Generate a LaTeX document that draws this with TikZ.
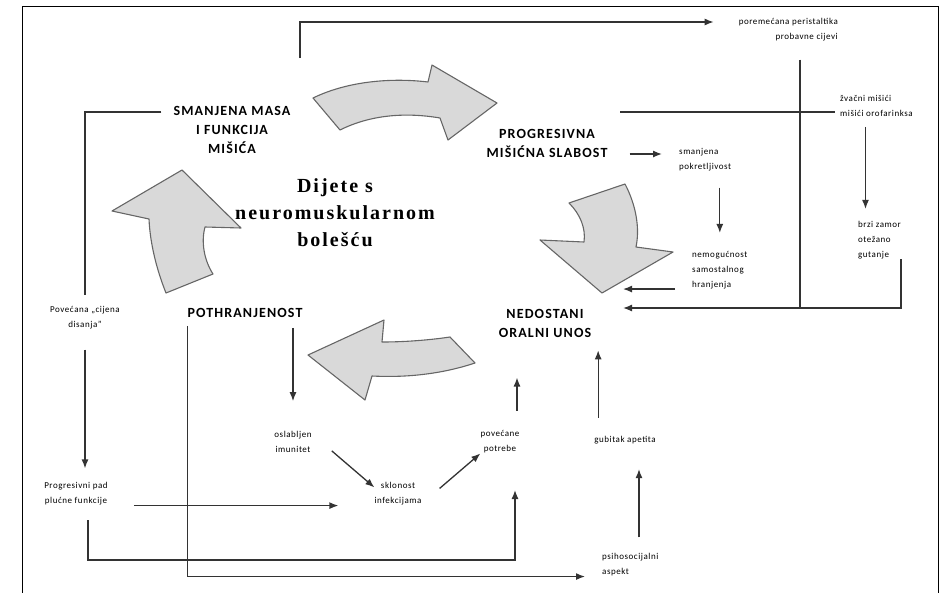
\documentclass[tikz,border=0pt]{standalone}
\usepackage{fontspec}
\setmainfont{Carlito}[LetterSpace=6]
\newfontfamily\capsfont{Carlito}[LetterSpace=8]
\newfontfamily\serifbold{Liberation Serif}[LetterSpace=10]
\usetikzlibrary{arrows.meta}

\tikzset{
  caps/.style={font=\capsfont\bfseries\fontsize{14}{19}\selectfont, align=center, inner sep=0pt},
  note/.style={font=\fontsize{9}{15}\selectfont, inner sep=0pt},
  link/.style={draw=black!80, line width=1.3pt},
  bigarrow/.style={fill=black!15, draw=black!60, line width=1.1pt, line join=round},
}

\begin{document}
\begin{tikzpicture}[x=1pt,y=-1pt,>={Latex[length=9pt,width=7pt]}]
  \useasboundingbox (0,0) rectangle (947,592);
  \draw[line width=1pt] (22,600) -- (22,6) -- (938,6) -- (938,600);

  % Big curved arrows of the cycle
  \draw[bigarrow] (313,98) .. controls (350,80) and (395,78) .. (428,82) -- (432,65)
    -- (497,103) -- (448,140) -- (440,118) .. controls (405,112) and (370,115) .. (340,130) -- cycle;
  \draw[bigarrow] (569,203) -- (625,184) .. controls (636,205) and (640,228) .. (636,247)
    -- (673,252) -- (602,293) -- (540,240) -- (584,242) .. controls (586,228) and (580,214) .. (569,203) -- cycle;
  \draw[bigarrow] (475,363) -- (450,337) .. controls (430,340) and (405,342) .. (382,342)
    -- (384,320) -- (308,355) -- (365,400) -- (372,376) .. controls (410,378) and (445,373) .. (475,363) -- cycle;
  \draw[bigarrow] (166,293) .. controls (156,268) and (150,242) .. (149,219) -- (112,211)
    -- (182,170) -- (241,228) -- (205,227) .. controls (201,242) and (204,260) .. (213,274) -- cycle;

  % Main labels
  \node[caps] (masa) at (232,130) {SMANJENA MASA\\I FUNKCIJA\\MIŠIĆA};
  \node[caps] (slabost) at (547,143) {PROGRESIVNA\\MIŠIĆNA SLABOST};
  \node[font=\serifbold\bfseries\fontsize{20}{27}\selectfont, align=center] (dijete) at (335,213) {Dijete s\\neuromuskularnom\\bolešću};
  \node[caps] (pothr) at (245,313) {POTHRANJENOST};
  \node[caps] (unos) at (545,323) {NEDOSTANI\\ORALNI UNOS};

  % Small labels
  \node[note, align=right, anchor=east] (perist) at (838,30) {poremećana peristaltika\\probavne cijevi};
  \node[note, align=left, anchor=west] (zvacni) at (840,106) {žvačni mišići\\mišići orofarinksa};
  \node[note, align=left, anchor=west] (pokret) at (679,160) {smanjena\\pokretljivost};
  \node[note, align=left, anchor=west] (nemog) at (692,270) {nemogućnost\\samostalnog\\hranjenja};
  \node[note, align=left, anchor=west] (zamor) at (858,240) {brzi zamor\\otežano\\gutanje};
  \node[note, align=center] (cijena) at (85,318) {Povećana „cijena\\disanja”};
  \node[note, align=center] (pluc) at (76,494) {Progresivni pad\\plućne funkcije};
  \node[note, align=center] (imun) at (293,442) {oslabljen\\imunitet};
  \node[note, align=center] (sklon) at (398,494) {sklonost\\infekcijama};
  \node[note, align=center] (potreb) at (500,442) {povećane\\potrebe};
  \node[note] (apetit) at (625,440) {gubitak apetita};
  \node[note, align=left, anchor=west] (psiho) at (602,565) {psihosocijalni\\aspekt};

  % Free ends and entry points
  \coordinate (topstart) at (300,58);
  \coordinate (musc) at (620,112);
  \coordinate (join) at (800,308);
  \coordinate (inlow) at (623,308);
  \coordinate (plstart) at (88,520);
  \coordinate (plend) at (515,490);

  % Connectors
  \draw[link,->] (topstart) |- ([xshift=-25pt,yshift=8pt]perist.west);
  \draw[link,shorten >=5pt] (musc) -- (musc -| zvacni.west);
  \draw[link,shorten <=18pt] (perist.south -| join) -- (join);
  \draw[link,->,shorten <=10pt,shorten >=12pt] ([xshift=-11pt]zvacni.south) -- ([xshift=-11pt]zvacni.south |- zamor.north);
  \draw[link,->] (zamor.south east) |- (inlow);
  \draw[link,->] ([xshift=-17pt]nemog.south west) -- ([xshift=-69pt]nemog.south west);
  \draw[link,->,shorten <=22pt,shorten >=17pt] ([yshift=-11pt]slabost.east) -- ([yshift=-11pt]slabost.east -| pokret.west);
  \draw[link,->,shorten <=16pt,shorten >=18pt] (pokret.south -| nemog.north) -- (nemog.north);
  \draw[link,shorten >=11pt] ([xshift=-12pt,yshift=18pt]masa.west) -| (cijena.north);
  \draw[link,->,shorten <=20pt,shorten >=14pt] (cijena.south) -- (pluc.north -| cijena.south);
  \draw[link,->,shorten <=26pt,shorten >=36pt] (pluc.south east) -- (pluc.south east -| sklon.west);
  \draw[link,->] (plstart) -- ++(0,40) -| (plend);
  \draw[link,->,shorten <=8pt,shorten >=17pt] (pothr.south west) |- (psiho.south west);
  \draw[link,->,shorten <=10pt,shorten >=30pt] (pothr.south -| imun.north) -- (imun.north);
  \draw[link,->] ([xshift=20pt,yshift=2pt]imun.south east) -- ([yshift=-5pt]sklon.north west);
  \draw[link,->] ([xshift=18pt,yshift=-6pt]sklon.north east) -- (potreb.south west);
  \draw[link,->] ([xshift=17pt,yshift=20pt]potreb.north) -- ([xshift=17pt,yshift=53pt]potreb.north);
  \draw[link,->,shorten <=18pt,shorten >=13pt] ([xshift=4pt]apetit.north west) -- ([xshift=4pt]apetit.north west |- unos.south);
  \draw[link,->,shorten <=16pt,shorten >=25pt] ([xshift=37pt]psiho.north west) -- ([xshift=37pt]psiho.north west |- apetit.south);
\end{tikzpicture}
\end{document}
